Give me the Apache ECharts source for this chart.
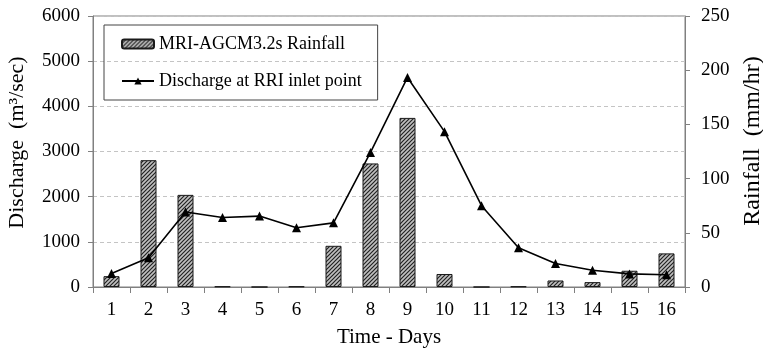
<!DOCTYPE html>
<html>
<head>
<meta charset="utf-8">
<script src="https://cdn.jsdelivr.net/npm/echarts@6/dist/echarts.min.js"></script>
<style>
  html, body { margin: 0; padding: 0; background: #fff; }
  #chart { width: 763px; height: 353px; }
</style>
</head>
<body>
<div id="chart"></div>
<script>
// Day numbers along the time axis
const days = ['1','2','3','4','5','6','7','8','9','10','11','12','13','14','15','16'];
// Daily rainfall from MRI-AGCM3.2s (mm/hr)
const rainfall = [10, 117, 85, 0.5, 0, 0.5, 38, 114, 156, 12, 0, 0.5, 6, 4.5, 15, 31];
// Discharge simulated at the RRI inlet point (m³/sec)
const discharge = [300, 650, 1660, 1540, 1570, 1310, 1420, 2980, 4640, 3440, 1800, 870, 520, 370, 290, 270];

const SERIF = '"Liberation Serif", "DejaVu Serif", serif';

// Diagonal hatch fill for the rainfall bars
function hatchPattern() {
  const c = document.createElement('canvas');
  c.width = 4; c.height = 4;
  const g = c.getContext('2d');
  g.fillStyle = '#c0c0c0';
  g.fillRect(0, 0, 4, 4);
  g.strokeStyle = '#222';
  g.lineWidth = 1.2;
  g.beginPath();
  g.moveTo(-1, 5); g.lineTo(5, -1);
  g.moveTo(-1, 1); g.lineTo(1, -1);
  g.moveTo(3, 5); g.lineTo(5, 3);
  g.stroke();
  return c;
}

const chart = echarts.init(document.getElementById('chart'), null, { renderer: 'canvas' });
const axisGray = '#808080';
const plain = v => String(v);

chart.setOption({
  animation: false,
  backgroundColor: '#fff',
  textStyle: { fontFamily: SERIF },
  grid: {
    left: 93, right: 78, top: 16, bottom: 66,
    outerBoundsMode: 'none',
    containLabel: false,
    show: true, borderColor: axisGray, borderWidth: 1
  },
  legend: {
    orient: 'vertical',
    left: 104, top: 25,
    padding: [10, 16, 10, 17],
    itemGap: 19,
    itemWidth: 32,
    itemHeight: 9,
    borderColor: '#444',
    borderWidth: 1,
    textStyle: { fontFamily: SERIF, fontSize: 18, color: '#000' },
    data: ['MRI-AGCM3.2s Rainfall', 'Discharge at RRI inlet point']
  },
  xAxis: {
    type: 'category',
    data: days,
    boundaryGap: true,
    name: 'Time - Days',
    nameLocation: 'middle',
    nameGap: 40,
    nameTextStyle: { fontFamily: SERIF, fontSize: 21, color: '#000' },
    axisLine: { lineStyle: { color: axisGray, width: 1 } },
    axisTick: { show: true, length: 6, lineStyle: { color: axisGray } },
    axisLabel: { fontFamily: SERIF, fontSize: 19, color: '#000', margin: 14 },
    splitLine: { show: false }
  },
  yAxis: [
    {
      type: 'value',
      min: 0, max: 6000, interval: 1000,
      name: 'Discharge  (m³/sec)',
      nameLocation: 'middle',
      nameGap: 65,
      nameRotate: 90,
      nameTextStyle: { fontFamily: SERIF, fontSize: 22, color: '#000', padding: [0, 0, 0, 18] },
      axisLine: { show: true, lineStyle: { color: axisGray, width: 1 } },
      axisTick: { show: true, length: 5, lineStyle: { color: axisGray } },
      axisLabel: { fontFamily: SERIF, fontSize: 19, color: '#000', margin: 13, formatter: plain },
      splitLine: { show: true, lineStyle: { color: '#c4c4c4', type: [4, 3], width: 1 } }
    },
    {
      type: 'value',
      position: 'right',
      min: 0, max: 250, interval: 50,
      name: 'Rainfall  (mm/hr)',
      nameLocation: 'middle',
      nameGap: 55,
      nameRotate: 90,
      nameTextStyle: { fontFamily: SERIF, fontSize: 24, color: '#000', padding: [0, 0, 0, 21] },
      axisLine: { show: true, lineStyle: { color: axisGray, width: 1 } },
      axisTick: { show: true, length: 5, lineStyle: { color: axisGray } },
      axisLabel: { fontFamily: SERIF, fontSize: 19, color: '#000', margin: 16, formatter: plain },
      splitLine: { show: false }
    }
  ],
  series: [
    {
      name: 'MRI-AGCM3.2s Rainfall',
      type: 'bar',
      yAxisIndex: 1,
      data: rainfall,
      barWidth: 16,
      itemStyle: {
        color: { image: hatchPattern(), repeat: 'repeat' },
        borderColor: '#1a1a1a',
        borderWidth: 1
      },
      z: 2
    },
    {
      name: 'Discharge at RRI inlet point',
      type: 'line',
      yAxisIndex: 0,
      data: discharge,
      symbol: 'triangle',
      symbolSize: 9,
      showAllSymbol: true,
      lineStyle: { color: '#000', width: 1.6 },
      itemStyle: { color: '#000' },
      z: 3
    }
  ]
});
</script>
</body>
</html>
